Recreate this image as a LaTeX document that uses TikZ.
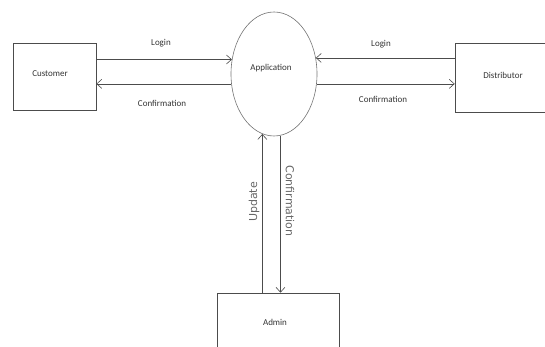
\documentclass[tikz,border=0pt]{standalone}
\usepackage{fontspec}
\setmainfont{Carlito}
\newfontfamily\sidefont{DejaVu Sans}
\usepackage{tikz}
\usetikzlibrary{shapes.geometric,arrows.meta}

\begin{document}
\begin{tikzpicture}[x=1pt,y=-1pt]
\tikzstyle{every node}+=[inner sep=0pt, font=\fontsize{9}{10}\selectfont, text=black!80]
\tikzstyle{entity}=[draw=black!70, line width=0.6pt]
\tikzstyle{flow}=[draw=black!70, line width=0.6pt, -{Straight Barb[length=5pt,width=9pt]}]
\tikzstyle{sidelabel}=[font=\sidefont\fontsize{11}{12}\selectfont, text=black!60]
\useasboundingbox (0,0) rectangle (545,347);
\clip (0,0) rectangle (545,347);
% entities
\node [entity, minimum width=83pt, minimum height=67pt] (cust) at (54.5,76.5) {};
\node (custlbl) at (50,74) {Customer};
\node [entity, ellipse, draw=black!55, minimum width=86pt, minimum height=124pt] (app) at (274,74) {};
\node (applbl) at (271,68) {Application};
\node [entity, minimum width=105pt, minimum height=69pt] (dist) at (507.5,77.5) {};
\node (distlbl) at (503,75) {Distributor};
\node [entity, minimum width=122pt, minimum height=72pt] (admin) at (278,329) {};
\node (adminlbl) at (275,322) {Admin};
% flows
\draw [flow] (cust.east |- app.161.6) -- (app.161.6);
\draw (161,43) node (login1) {Login};
\draw [flow] (app.193.3) -- (cust.east |- app.193.3);
\draw (162,103) node (conf1) {Confirmation};
\draw [flow] (dist.west |- app.21.1) -- (app.21.1);
\draw (381,44) node (login2) {Login};
\draw [flow] (app.-13.3) -- (dist.west |- app.-13.3);
\draw (383,99) node (conf2) {Confirmation};
\draw [flow] (app.259.6 |- admin.north) -- (app.259.6);
\draw (254,202) node [sidelabel, rotate=90] (upd) {Update};
\draw [flow] (app.276.5) -- (app.276.5 |- admin.north);
\draw (290,201) node [sidelabel, rotate=-90] (conf3) {Confirmation};
\end{tikzpicture}
\end{document}
